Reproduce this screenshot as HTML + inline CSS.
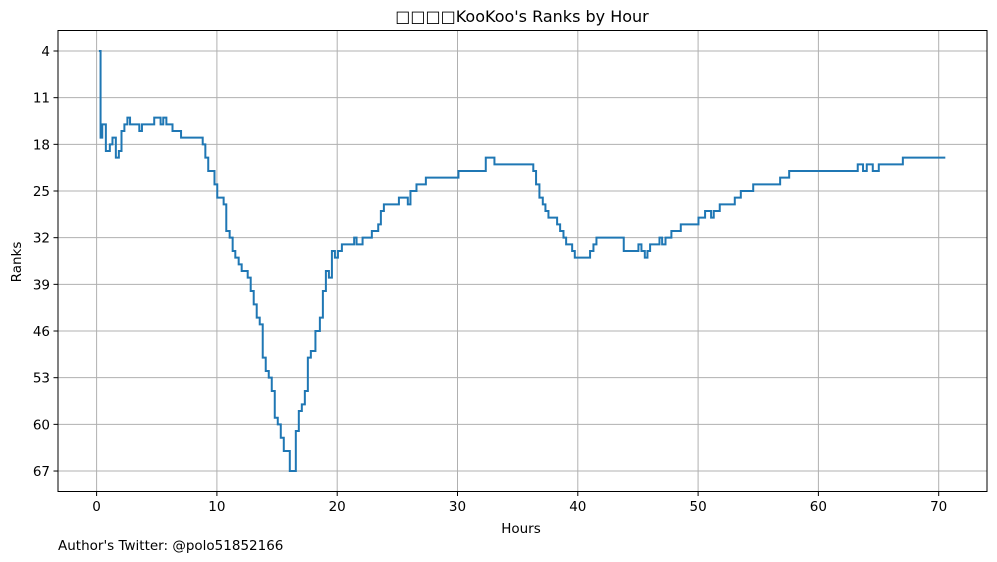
<!DOCTYPE html>
<html><head><meta charset="utf-8"><style>
html,body{margin:0;padding:0;background:#fff}
svg{display:block;font-family:"DejaVu Sans","Liberation Sans",sans-serif}
</style></head><body>
<svg id="chart" width="997" height="562" viewBox="0 0 997 562">
<rect width="997" height="562" fill="#fff"/>
<text x="522" y="22" text-anchor="middle" font-size="16" fill="#000">□□□□KooKoo's Ranks by Hour</text>
<text x="521" y="533" text-anchor="middle" font-size="13.5" fill="#000">Hours</text>
<text transform="translate(21,262) rotate(-90)" text-anchor="middle" font-size="13.5" fill="#000">Ranks</text>
<text x="58" y="550" font-size="13.5" fill="#000">Author's Twitter: @polo51852166</text>
<g id="grid"></g><g id="ticks"></g><g id="series"></g>
<rect x="58" y="30.5" width="929" height="461" fill="none" stroke="#000" stroke-width="1"/>
</svg>
<script>
const hours = [0.19,0.33,0.47,0.77,1.1,1.32,1.6,1.85,2.07,2.31,2.56,2.78,3.55,3.77,4.79,5.32,5.54,5.8,6.31,7.02,8.82,9.04,9.28,9.8,10.03,10.56,10.78,11.06,11.31,11.53,11.81,12.06,12.56,12.81,13.06,13.31,13.56,13.81,14.06,14.31,14.56,14.81,15.06,15.31,15.56,16.06,16.56,16.81,17.06,17.31,17.56,17.81,18.19,18.56,18.81,19.06,19.31,19.56,19.81,20.06,20.39,21.41,21.61,22.11,22.88,23.41,23.63,23.88,25.13,25.87,26.09,26.59,27.37,30.08,32.35,33.07,36.3,36.53,36.81,37.09,37.31,37.56,38.28,38.53,38.81,39.03,39.53,39.75,41.02,41.3,41.55,43.82,45.04,45.29,45.57,45.79,46.01,46.79,47.01,47.29,47.78,48.56,50.03,50.58,51.08,51.3,51.8,53.05,53.55,54.58,56.82,57.57,63.27,63.71,64.02,64.52,65.02,67.02];
const ranks = [4,17,15,19,18,17,20,19,16,15,14,15,16,15,14,15,14,15,16,17,18,20,22,24,26,27,31,32,34,35,36,37,38,40,42,44,45,50,52,53,55,59,60,62,64,67,61,58,57,55,50,49,46,44,40,37,38,34,35,34,33,32,33,32,31,30,28,27,26,27,25,24,23,22,20,21,22,24,26,27,28,29,30,31,32,33,34,35,34,33,32,34,33,34,35,34,33,32,33,32,31,30,29,28,29,28,27,26,25,24,23,22,21,22,21,22,21,20];
const endHour = 70.55;
const xTicks = [0,10,20,30,40,50,60,70];
const yTicks = [4,11,18,25,32,39,46,53,60,67];

const NS = "http://www.w3.org/2000/svg";
const X = h => 96.6 + h * 12.03;
const Y = r => 51 + (r - 4) * 6.667;
const grid = document.getElementById('grid');
const ticks = document.getElementById('ticks');
function mk(tag, attrs, parent){const e=document.createElementNS(NS,tag);for(const k in attrs)e.setAttribute(k,attrs[k]);parent.appendChild(e);return e;}

xTicks.forEach(t=>{
  const gl = mk('line',{x1:X(t),x2:X(t),y1:30.5,y2:491.5,stroke:'#b0b0b0','stroke-width':1},grid);
  
  
  const tk = mk('line',{x1:X(t),x2:X(t),y1:491.5,y2:496,stroke:'#000','stroke-width':1},ticks);
  
  
  const tl = mk('text',{x:X(t),y:511,'text-anchor':'middle','font-size':13.5,fill:'#000'},ticks);
  tl.textContent = t;
  
  
});
yTicks.forEach(t=>{
  const gl = mk('line',{x1:58,x2:987,y1:Y(t),y2:Y(t),stroke:'#b0b0b0','stroke-width':1},grid);
  
  
  const tk = mk('line',{x1:53.5,x2:58,y1:Y(t),y2:Y(t),stroke:'#000','stroke-width':1},ticks);
  
  
  const tl = mk('text',{x:50,y:Y(t)+5,'text-anchor':'end','font-size':13.5,fill:'#000'},ticks);
  tl.textContent = t;
  
  
});

let d = '';
for(let i=0;i<hours.length;i++){
  const x0 = X(hours[i]), x1 = X(i+1<hours.length?hours[i+1]:endHour), y = Y(ranks[i]);
  d += (i===0?'M':'L') + x0.toFixed(2)+','+y.toFixed(2)+' L'+x1.toFixed(2)+','+y.toFixed(2)+' ';
}
const path = mk('path',{d:d,fill:'none',stroke:'#1f77b4','stroke-width':2,'stroke-linejoin':'miter'},document.getElementById('series'));


</script>
</body></html>
